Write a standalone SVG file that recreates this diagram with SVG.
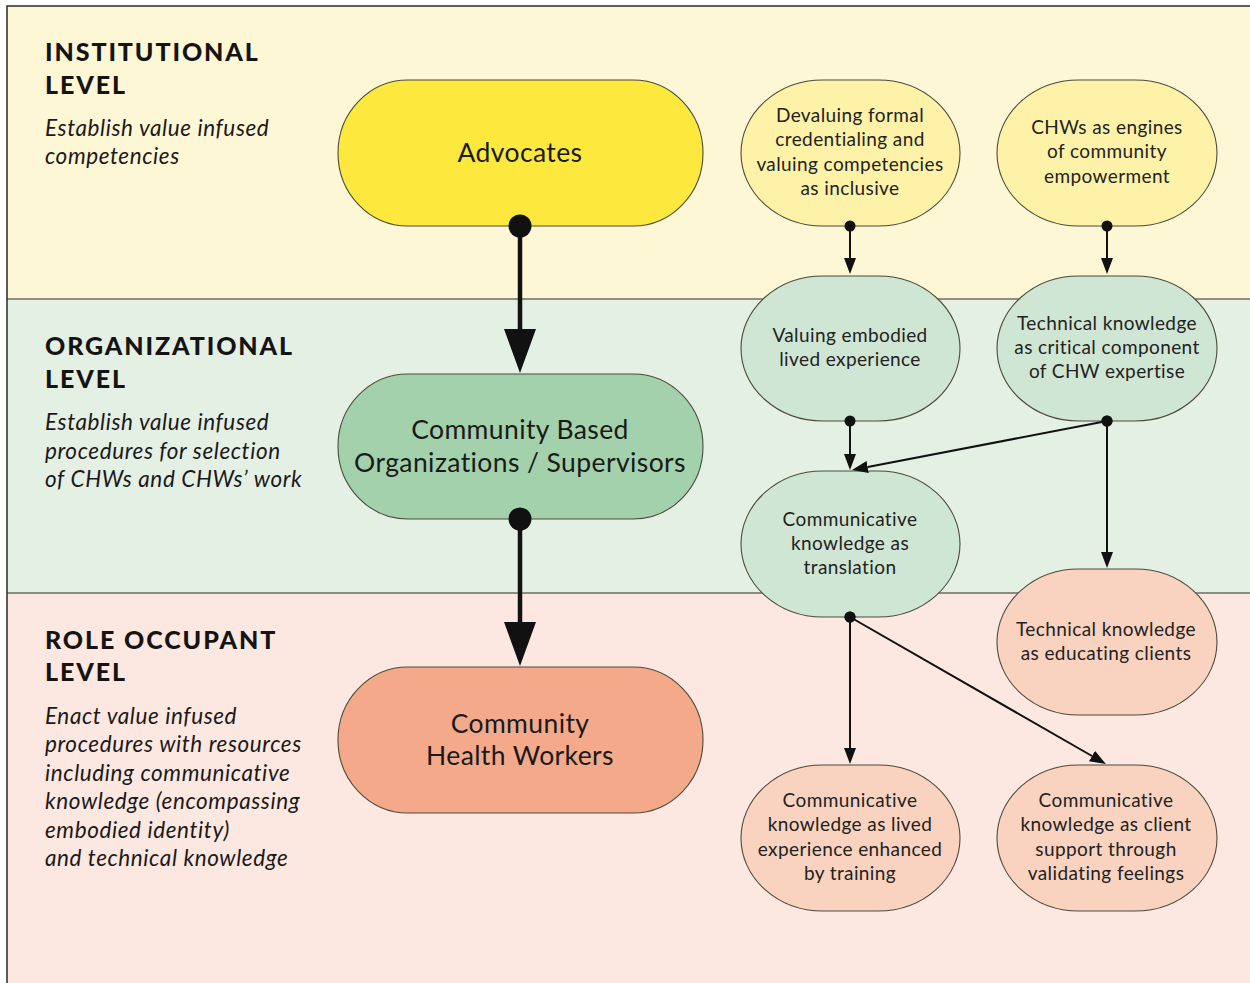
<svg xmlns="http://www.w3.org/2000/svg" width="1250" height="983" viewBox="0 0 1250 983">
  <style>
    .band-line { stroke: #6e6e60; stroke-width: 1.5; }
    .frame { stroke: #2a2a22; stroke-width: 1.5; fill: none; }
    .heading { font-family: Lato, "Liberation Sans", sans-serif; font-weight: 900; font-size: 25px; letter-spacing: 1.9px; fill: #141414; }
    .desc { font-family: Lato, "Liberation Sans", sans-serif; font-style: italic; font-size: 22.5px; letter-spacing: 0.6px; fill: #1a1a1a; }
    .big-label { font-family: Lato, "Liberation Sans", sans-serif; font-size: 26.5px; letter-spacing: 0.4px; fill: #1a1a1a; text-anchor: middle; }
    .small-label { font-family: Lato, "Liberation Sans", sans-serif; font-size: 19px; letter-spacing: 0.4px; fill: #222; text-anchor: middle; }
    .node-shape { stroke: #4a4a3a; stroke-width: 1.1; }
    .big-edge { stroke: #111; stroke-width: 4.5; fill: none; }
    .small-edge { stroke: #111; stroke-width: 2; fill: none; }
  </style>
  <defs>
    <marker id="big-head" markerUnits="userSpaceOnUse" markerWidth="46" markerHeight="34" refX="0" refY="16" orient="auto">
      <path d="M0,0 L44,16 L0,32 Z" fill="#111"/>
    </marker>
    <marker id="small-head" markerUnits="userSpaceOnUse" markerWidth="18" markerHeight="14" refX="0" refY="6" orient="auto">
      <path d="M0,0 L16,6 L0,12 Z" fill="#111"/>
    </marker>
    <marker id="big-dot" markerUnits="userSpaceOnUse" markerWidth="26" markerHeight="26" refX="13" refY="13">
      <circle cx="13" cy="13" r="11.5" fill="#111"/>
    </marker>
    <marker id="small-dot" markerUnits="userSpaceOnUse" markerWidth="14" markerHeight="14" refX="7" refY="7">
      <circle cx="7" cy="7" r="5.5" fill="#111"/>
    </marker>
  </defs>

  <!-- page -->
  <rect x="0" y="0" width="1250" height="983" fill="#ffffff"/>

  <!-- level bands -->
  <g id="bands">
    <rect x="7" y="6" width="1243" height="293" fill="#fef7d6"/>
    <rect x="7" y="299" width="1243" height="294" fill="#e5f0e5"/>
    <rect x="7" y="593" width="1243" height="390" fill="#fce8e0"/>
    <line class="band-line" x1="7" y1="299" x2="1250" y2="299"/>
    <line class="band-line" x1="7" y1="593" x2="1250" y2="593"/>
    <path class="frame" d="M7,983 L7,6 L1250,6"/>
  </g>

  <!-- level captions -->
  <g id="level-institutional">
    <text class="heading" x="45" y="61">INSTITUTIONAL</text>
    <text class="heading" x="45" y="94">LEVEL</text>
    <text class="desc" x="45" y="136">Establish value infused</text>
    <text class="desc" x="45" y="164">competencies</text>
  </g>
  <g id="level-organizational">
    <text class="heading" x="45" y="355">ORGANIZATIONAL</text>
    <text class="heading" x="45" y="388">LEVEL</text>
    <text class="desc" x="45" y="430">Establish value infused</text>
    <text class="desc" x="45" y="459">procedures for selection</text>
    <text class="desc" x="45" y="487">of CHWs and CHWs’ work</text>
  </g>
  <g id="level-role-occupant">
    <text class="heading" x="45" y="649">ROLE OCCUPANT</text>
    <text class="heading" x="45" y="681">LEVEL</text>
    <text class="desc" x="45" y="724">Enact value infused</text>
    <text class="desc" x="45" y="752">procedures with resources</text>
    <text class="desc" x="45" y="781">including communicative</text>
    <text class="desc" x="45" y="809">knowledge (encompassing</text>
    <text class="desc" x="45" y="838">embodied identity)</text>
    <text class="desc" x="45" y="866">and technical knowledge</text>
  </g>

  <!-- main actors -->
  <g id="advocates">
    <rect class="node-shape" x="338" y="80" width="365" height="146" rx="70" ry="73" fill="#fde93e"/>
    <text class="big-label" x="520" y="162">Advocates</text>
  </g>
  <g id="community-based-organizations">
    <rect class="node-shape" x="338" y="374" width="365" height="145" rx="70" ry="72.5" fill="#a3d1ab"/>
    <text class="big-label" x="520" y="439">Community Based</text>
    <text class="big-label" x="520" y="472">Organizations / Supervisors</text>
  </g>
  <g id="community-health-workers">
    <rect class="node-shape" x="338" y="667" width="365" height="146" rx="70" ry="73" fill="#f4a98b"/>
    <text class="big-label" x="520" y="733">Community</text>
    <text class="big-label" x="520" y="765">Health Workers</text>
  </g>

  <!-- themes -->
  <g id="devaluing-credentialing">
    <rect class="node-shape" x="741" y="80" width="219" height="146" rx="82" ry="73" fill="#fef2a8"/>
    <text class="small-label" x="850" y="122">Devaluing formal</text>
    <text class="small-label" x="850" y="146">credentialing and</text>
    <text class="small-label" x="850" y="171">valuing competencies</text>
    <text class="small-label" x="850" y="195">as inclusive</text>
  </g>
  <g id="chws-engines">
    <rect class="node-shape" x="997" y="80" width="220" height="146" rx="82" ry="73" fill="#fef2a8"/>
    <text class="small-label" x="1107" y="134">CHWs as engines</text>
    <text class="small-label" x="1107" y="158">of community</text>
    <text class="small-label" x="1107" y="183">empowerment</text>
  </g>
  <g id="valuing-embodied">
    <rect class="node-shape" x="741" y="276" width="219" height="145" rx="82" ry="72.5" fill="#d0e6d4"/>
    <text class="small-label" x="850" y="342">Valuing embodied</text>
    <text class="small-label" x="850" y="366">lived experience</text>
  </g>
  <g id="technical-critical">
    <rect class="node-shape" x="997" y="276" width="220" height="145" rx="82" ry="72.5" fill="#d0e6d4"/>
    <text class="small-label" x="1107" y="330">Technical knowledge</text>
    <text class="small-label" x="1107" y="354">as critical component</text>
    <text class="small-label" x="1107" y="378">of CHW expertise</text>
  </g>
  <g id="communicative-translation">
    <rect class="node-shape" x="741" y="471" width="219" height="146" rx="82" ry="73" fill="#d0e6d4"/>
    <text class="small-label" x="850" y="526">Communicative</text>
    <text class="small-label" x="850" y="550">knowledge as</text>
    <text class="small-label" x="850" y="574">translation</text>
  </g>
  <g id="technical-educating">
    <rect class="node-shape" x="997" y="569" width="220" height="146" rx="82" ry="73" fill="#f9d3bf"/>
    <text class="small-label" x="1106" y="636">Technical knowledge</text>
    <text class="small-label" x="1106" y="660">as educating clients</text>
  </g>
  <g id="communicative-lived">
    <rect class="node-shape" x="741" y="765" width="219" height="146" rx="82" ry="73" fill="#f9d3bf"/>
    <text class="small-label" x="850" y="807">Communicative</text>
    <text class="small-label" x="850" y="831">knowledge as lived</text>
    <text class="small-label" x="850" y="856">experience enhanced</text>
    <text class="small-label" x="850" y="880">by training</text>
  </g>
  <g id="communicative-client-support">
    <rect class="node-shape" x="997" y="765" width="220" height="146" rx="82" ry="73" fill="#f9d3bf"/>
    <text class="small-label" x="1106" y="807">Communicative</text>
    <text class="small-label" x="1106" y="831">knowledge as client</text>
    <text class="small-label" x="1106" y="856">support through</text>
    <text class="small-label" x="1106" y="880">validating feelings</text>
  </g>

  <!-- connectors: each line stops at the base of its arrowhead -->
  <g id="connectors">
    <path class="big-edge" d="M520,226 L520,329" marker-start="url(#big-dot)" marker-end="url(#big-head)"/>
    <path class="big-edge" d="M520,519 L520,622" marker-start="url(#big-dot)" marker-end="url(#big-head)"/>

    <path class="small-edge" d="M850,226 L850,258" marker-start="url(#small-dot)" marker-end="url(#small-head)"/>
    <path class="small-edge" d="M1107,226 L1107,258" marker-start="url(#small-dot)" marker-end="url(#small-head)"/>
    <path class="small-edge" d="M850,421 L850,454" marker-start="url(#small-dot)" marker-end="url(#small-head)"/>
    <path class="small-edge" d="M1107,421 L867.7,467" marker-start="url(#small-dot)" marker-end="url(#small-head)"/>
    <path class="small-edge" d="M1107,421 L1107,552" marker-start="url(#small-dot)" marker-end="url(#small-head)"/>
    <path class="small-edge" d="M850,617 L850,748" marker-start="url(#small-dot)" marker-end="url(#small-head)"/>
    <path class="small-edge" d="M850,617 L1092,756" marker-start="url(#small-dot)" marker-end="url(#small-head)"/>
  </g>
</svg>
